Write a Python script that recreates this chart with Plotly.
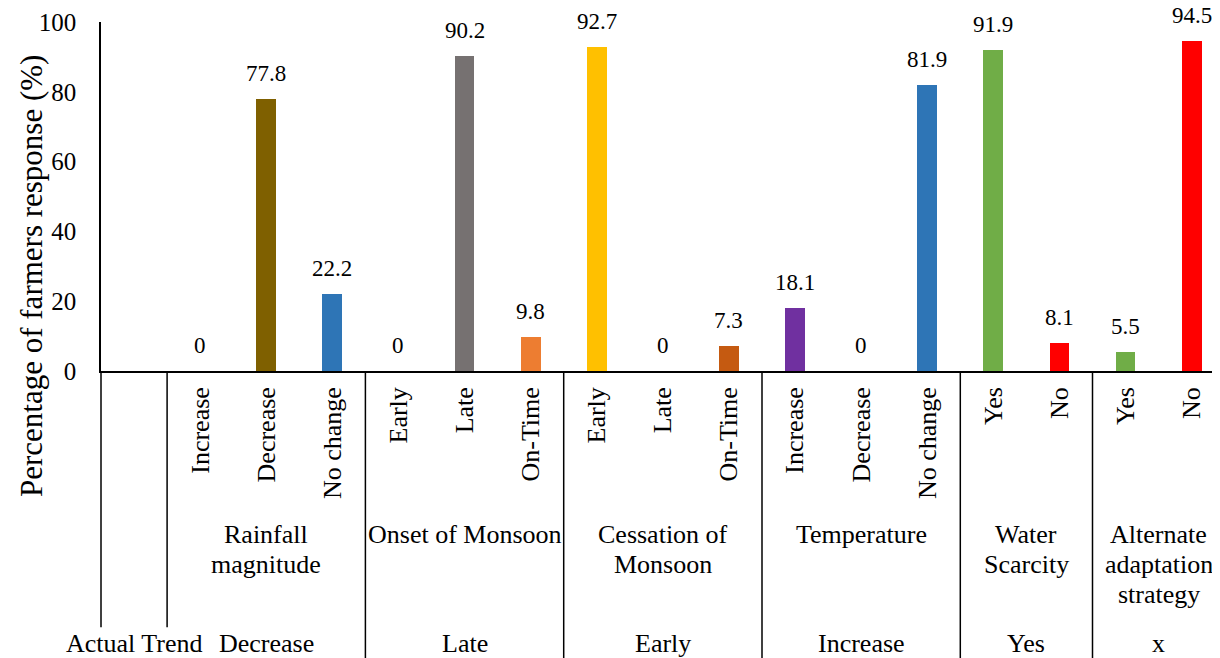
import plotly.graph_objects as go

# ---------------- data ----------------
groups = ["Rainfall<br>magnitude", "Onset of Monsoon", "Cessation of<br>Monsoon",
          "Temperature", "Water<br>Scarcity", "Alternate<br>adaptation<br>strategy"]
responses = [
    ["Increase", "Decrease", "No change"],
    ["Early", "Late", "On-Time"],
    ["Early", "Late", "On-Time"],
    ["Increase", "Decrease", "No change"],
    ["Yes", "No"],
    ["Yes", "No"],
]
values = [
    [0, 77.8, 22.2],
    [0, 90.2, 9.8],
    [92.7, 0, 7.3],
    [18.1, 0, 81.9],
    [91.9, 8.1],
    [5.5, 94.5],
]
actual_trend_label = "Actual Trend"
actual_trend = ["Decrease", "Late", "Early", "Increase", "Yes", "x"]
bar_colors = [
    ["#7F6000", "#7F6000", "#2E75B6"],
    ["#767171", "#767171", "#ED7D31"],
    ["#FFC000", "#FFC000", "#C55A11"],
    ["#7030A0", "#7030A0", "#2E75B6"],
    ["#70AD47", "#FF0000"],
    ["#70AD47", "#FF0000"],
]
y_title = "Percentage of farmers response (%)"
y_ticks = [0, 20, 40, 60, 80, 100]

# ---------------- build ----------------
FONT = "Liberation Serif"
xs, ys, labels, cols = [], [], [], []
group_ranges = []
pos = 1  # slot 0 is the "Actual Trend" column
for g, (resp, vals, cs) in enumerate(zip(responses, values, bar_colors)):
    start = pos
    for r, v, c in zip(resp, vals, cs):
        xs.append(pos)
        ys.append(v)
        labels.append(r)
        cols.append(c)
        pos += 1
    group_ranges.append((start, pos - 1))

fig = go.Figure()
fig.add_trace(go.Bar(x=xs, y=ys, width=0.3, marker=dict(color=cols, line=dict(width=0)),
                     hoverinfo="x+y"))

annotations = []
# value labels
for x, v in zip(xs, ys):
    annotations.append(dict(x=x, y=v, xref="x", yref="y", text=f"{v:g}", showarrow=False,
                            yanchor="bottom", yshift=11,
                            font=dict(family=FONT, size=23, color="black")))

LINE_H = 30
# group labels (level 2) and actual trend (level 3)
for (a, b), gname, trend in zip(group_ranges, groups, actual_trend):
    cx = (a + b) / 2
    for i, line in enumerate(gname.split("<br>")):
        annotations.append(dict(x=cx, y=0, xref="x", yref="paper", text=line, showarrow=False,
                                yanchor="top", yshift=-147 - i * LINE_H,
                                font=dict(family=FONT, size=26, color="black")))
    annotations.append(dict(x=cx, y=0, xref="x", yref="paper", text=trend, showarrow=False,
                            yanchor="top", yshift=-256,
                            font=dict(family=FONT, size=26, color="black")))
annotations.append(dict(x=0, y=0, xref="x", yref="paper", text=actual_trend_label, showarrow=False,
                        yanchor="top", yshift=-256,
                        font=dict(family=FONT, size=26, color="black")))
# y axis title
annotations.append(dict(x=0, y=0, xref="paper", yref="paper", text=y_title, showarrow=False,
                        textangle=-90, xanchor="center", yanchor="middle", xshift=-70, yshift=95,
                        font=dict(family=FONT, size=31, color="black")))

shapes = []
LW = 1.5
# extension of the y axis line and the first separator
shapes.append(dict(type="line", xref="paper", yref="paper", x0=0, x1=0, y0=0, y1=-0.734,
                   line=dict(color="black", width=LW)))
shapes.append(dict(type="line", xref="x", yref="paper", x0=0.5, x1=0.5, y0=0, y1=-0.734,
                   line=dict(color="black", width=LW)))
for (a, b) in group_ranges:
    shapes.append(dict(type="line", xref="x", yref="paper", x0=b + 0.5, x1=b + 0.5, y0=0, y1=-0.9,
                       line=dict(color="black", width=LW)))

# page body has an 8px margin: compensate so the plot area lands at x=101..1220, y=22..371
fig.update_layout(
    width=1212, height=650,
    margin=dict(l=93, r=0, t=14, b=287),
    paper_bgcolor="white", plot_bgcolor="white",
    showlegend=False,
    bargap=0,
    annotations=annotations,
    shapes=shapes,
    font=dict(family=FONT, color="black"),
    xaxis=dict(range=[-0.5, -0.5 + 1119 / 66.1], tickmode="array", tickvals=xs, ticktext=labels,
               tickangle=-90, showline=True, linecolor="black", linewidth=LW, showgrid=False,
               zeroline=False, ticks="", ticklabelstandoff=4,
               tickfont=dict(family=FONT, size=26, color="black")),
    yaxis=dict(range=[0, 100], tickvals=y_ticks, showline=True, linecolor="black", linewidth=LW,
               showgrid=False, zeroline=False, ticks="", ticklabelstandoff=18,
               tickfont=dict(family=FONT, size=25, color="black")),
)
fig.write_html("out.html")
